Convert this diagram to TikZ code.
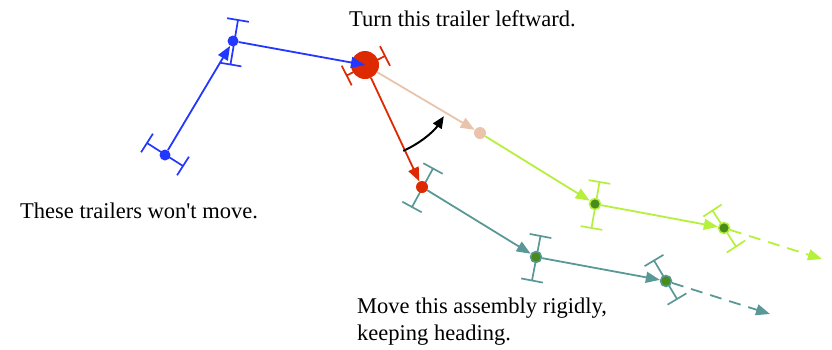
\documentclass[tikz,border=0pt]{standalone}
\usepackage{fontspec}
\setmainfont{Liberation Serif}[Ligatures=TeXOff]
\usetikzlibrary{arrows.meta,calc}
\definecolor{tblue}{RGB}{35,55,255}
\definecolor{tred}{RGB}{221,42,0}
\definecolor{tpeach}{RGB}{233,196,171}
\definecolor{tlime}{RGB}{181,240,60}
\definecolor{tteal}{RGB}{90,152,152}
\definecolor{tdkgreen}{RGB}{74,140,28}
\tikzset{
  lab/.style={font=\fontsize{22.5}{27}\selectfont, inner sep=0pt, anchor=base west, align=left},
  link/.style={line width=1.8pt, -{Triangle[length=14pt,width=11pt]}},
  dashlink/.style={link, dash pattern=on 12pt off 8pt},
  dot/.style={circle, inner sep=0pt, minimum size=#1},
  axlestyle/.style={line width=1.7pt},
}
\newcommand{\axle}[3]{%
  \draw[axlestyle,#1] ($#2$) -- ($#3$)
    ($#2!11pt!90:#3$) -- ($#2!11pt!-90:#3$)
    ($#3!11pt!90:#2$) -- ($#3!11pt!-90:#2$);}
\begin{document}
\begin{tikzpicture}[x=1pt,y=-1pt]
\useasboundingbox (0,0) rectangle (832,349);
% axles
\axle{tblue}{(147,143)}{(183,166)}
\axle{tblue}{(238,20)}{(230.5,64.5)}
\axle{tred}{(346.7,75.5)}{(385,56)}
\axle{tteal}{(412,207)}{(433,168.5)}
\axle{tteal}{(540.5,236)}{(532,280.5)}
\axle{tteal}{(654,260.5)}{(677,299)}
\axle{tlime}{(599.5,182)}{(591.5,228)}
\axle{tlime}{(712.5,210.5)}{(736,246.5)}
% dots
\node[dot=11pt, fill=tblue] (b1) at (165,155) {};
\node[dot=11pt, fill=tblue] (b2) at (233,41) {};
\node[dot=28pt, fill=tred] (r) at (365,65) {};
\node[dot=12pt, fill=tred] (r2) at (422,187) {};
\node[dot=12pt, fill=tpeach] (o) at (480,133) {};
\node[dot=11pt, fill=tdkgreen, draw=tlime, line width=1.5pt] (g1) at (595,204) {};
\node[dot=11pt, fill=tdkgreen, draw=tlime, line width=1.5pt] (g2) at (724,228) {};
\node[dot=11pt, fill=tdkgreen, draw=tteal, line width=1.5pt] (t1) at (536,257) {};
\node[dot=11pt, fill=tdkgreen, draw=tteal, line width=1.5pt] (t2) at (666,281) {};
\coordinate (tend) at (770,314);
\coordinate (gend) at (822,259);
% connectors
\draw[link, tblue] (b1) -- (b2);
\draw[link, tblue] (b2) -- (r.center);
\draw[link, tred] (r) -- (r2);
\draw[link, tpeach] (r) -- (o);
\draw[link, tlime] (o) -- (g1);
\draw[link, tlime] (g1) -- (g2);
\draw[dashlink, tlime] (g2) -- (gend);
\draw[link, tteal] (r2) -- (t1);
\draw[link, tteal] (t1) -- (t2);
\draw[dashlink, tteal] (t2) -- (tend);
% turning arc
\coordinate (as) at ($(r.center)+(66:94)$);
\draw[line width=2pt, -{Triangle[length=12pt,width=10pt]}] (as) arc[start angle=66, end angle=33, radius=94];
% labels
\node[lab] (l1) at (349,26) {Turn this trailer leftward.};
\node[lab] (l2) at (20,218) {These trailers won't move.};
\node[lab] (l3) at (357,313) {Move this assembly rigidly,};
\node[lab] (l4) at (357,340) {keeping heading.};
\end{tikzpicture}
\end{document}
